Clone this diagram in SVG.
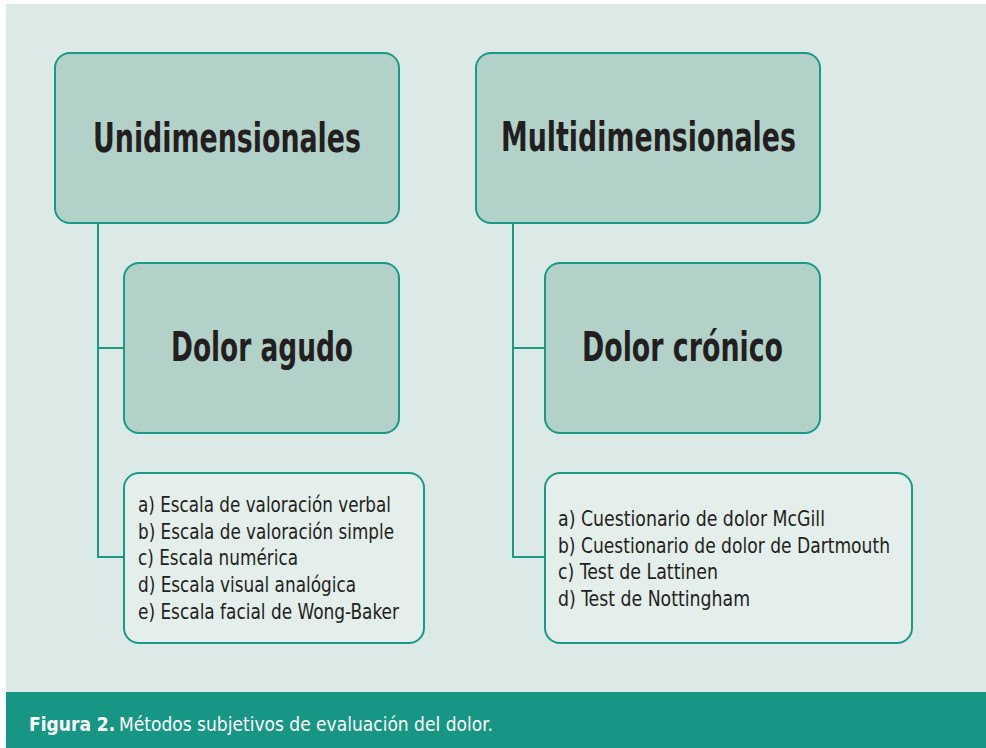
<svg xmlns="http://www.w3.org/2000/svg" width="986" height="748" viewBox="0 0 986 748">
<style>
.box{fill:#b2d1c9;stroke:#1a9985;stroke-width:2}
.list{fill:#e4eeeb;stroke:#1a9985;stroke-width:2}
.conn{fill:none;stroke:#1a9985;stroke-width:2}
.title{font-family:"DejaVu Sans Condensed","DejaVu Sans",sans-serif;font-stretch:condensed;font-weight:bold;font-size:41px;fill:#231f20}
.item{font-family:"DejaVu Sans Condensed","DejaVu Sans",sans-serif;font-stretch:condensed;font-size:22px;fill:#231f20}
.cap{font-family:"DejaVu Sans Condensed","DejaVu Sans",sans-serif;font-stretch:condensed;font-size:19px;fill:#ffffff}
</style>
<rect x="0" y="0" width="986" height="748" fill="#ffffff"/>
<rect x="6" y="4" width="980" height="688" fill="#dbeae6"/>
<rect x="6" y="692" width="980" height="56" fill="#179683"/>
<g id="connectors">
<path class="conn" d="M98 223 V557 H124 M98 348 H124"/>
<path class="conn" d="M513 223 V557 H545 M513 348 H545"/>
</g>
<g id="unidimensionales">
<rect class="box" x="55" y="53" width="344" height="170" rx="15"/>
<text class="title" x="93" y="152" textLength="268" lengthAdjust="spacingAndGlyphs">Unidimensionales</text>
</g>
<g id="dolor-agudo">
<rect class="box" x="124" y="263" width="275" height="170" rx="15"/>
<text class="title" x="171" y="361" textLength="182" lengthAdjust="spacingAndGlyphs">Dolor agudo</text>
</g>
<g id="lista-agudo">
<rect class="list" x="124" y="473" width="300" height="170" rx="15"/>
<text class="item" x="138" y="512" textLength="253" lengthAdjust="spacingAndGlyphs">a) Escala de valoración verbal</text>
<text class="item" x="138" y="539" textLength="256" lengthAdjust="spacingAndGlyphs">b) Escala de valoración simple</text>
<text class="item" x="138" y="565" textLength="160" lengthAdjust="spacingAndGlyphs">c) Escala numérica</text>
<text class="item" x="138" y="592" textLength="218" lengthAdjust="spacingAndGlyphs">d) Escala visual analógica</text>
<text class="item" x="138" y="619" textLength="261" lengthAdjust="spacingAndGlyphs">e) Escala facial de Wong-Baker</text>
</g>
<g id="multidimensionales">
<rect class="box" x="476" y="53" width="344" height="170" rx="15"/>
<text class="title" x="501" y="151" textLength="295" lengthAdjust="spacingAndGlyphs">Multidimensionales</text>
</g>
<g id="dolor-cronico">
<rect class="box" x="545" y="263" width="275" height="170" rx="15"/>
<text class="title" x="582" y="361" textLength="201" lengthAdjust="spacingAndGlyphs">Dolor crónico</text>
</g>
<g id="lista-cronico">
<rect class="list" x="545" y="473" width="367" height="170" rx="15"/>
<text class="item" x="558" y="526" textLength="267" lengthAdjust="spacingAndGlyphs">a) Cuestionario de dolor McGill</text>
<text class="item" x="558" y="553" textLength="332" lengthAdjust="spacingAndGlyphs">b) Cuestionario de dolor de Dartmouth</text>
<text class="item" x="558" y="579" textLength="160" lengthAdjust="spacingAndGlyphs">c) Test de Lattinen</text>
<text class="item" x="558" y="606" textLength="192" lengthAdjust="spacingAndGlyphs">d) Test de Nottingham</text>
</g>
<g id="caption">
<text class="cap" x="29" y="731" font-weight="bold">Figura 2.</text>
<text class="cap" x="119" y="731">Métodos subjetivos de evaluación del dolor.</text>
</g>
</svg>
